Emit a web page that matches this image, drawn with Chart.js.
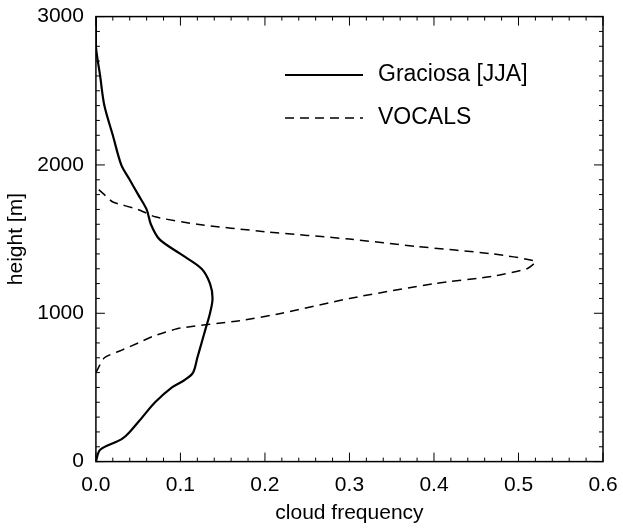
<!DOCTYPE html>
<html lang="en">
<head>
<meta charset="UTF-8" />
<script src="https://cdn.jsdelivr.net/npm/chart.js"></script>
<style>
  body { margin: 0; background: #fff; }
  #wrap { width: 623px; height: 530px; }
</style>
</head>
<body>
<div id="wrap"><canvas id="c"></canvas></div>
<script>
const graciosaHeight = [0, 80, 150, 200, 300, 400, 500, 550, 600, 700, 800, 900, 1000, 1100, 1200, 1300, 1400, 1500, 1600, 1700, 1800, 1900, 2000, 2200, 2400, 2600, 2800, 3000];
const graciosaFreq   = [0, 0.005, 0.03, 0.04, 0.055, 0.07, 0.09, 0.105, 0.115, 0.12, 0.125, 0.13, 0.135, 0.138, 0.135, 0.125, 0.1, 0.075, 0.065, 0.06, 0.05, 0.04, 0.03, 0.02, 0.01, 0.005, 0, 0];
const vocalsHeight = [600, 700, 750, 800, 850, 900, 950, 1000, 1100, 1200, 1250, 1300, 1350, 1400, 1450, 1500, 1550, 1600, 1650, 1700, 1750, 1800, 1850];
const vocalsFreq   = [0, 0.01, 0.03, 0.05, 0.07, 0.1, 0.17, 0.22, 0.3, 0.4, 0.47, 0.51, 0.52, 0.47, 0.38, 0.3, 0.2, 0.12, 0.07, 0.05, 0.02, 0.01, 0];

const FONT = '"Liberation Sans", Arial, sans-serif';
const toPoints = (xs, ys) => xs.map((x, i) => ({ x, y: ys[i] }));

const frame = {
  id: 'frame',
  afterDraw(chart) {
    const { ctx, chartArea: a, scales: { x, y } } = chart;
    ctx.save();
    ctx.strokeStyle = '#000';
    ctx.lineWidth = 1.5;
    ctx.strokeRect(a.left, a.top, a.right - a.left, a.bottom - a.top);
    ctx.lineWidth = 1;
    ctx.beginPath();
    for (let v = 0; v <= 0.6001; v += 0.02) {
      const p = x.getPixelForValue(v);
      const len = Math.abs(v * 10 - Math.round(v * 10)) < 1e-6 ? 9 : 4;
      ctx.moveTo(p, a.bottom); ctx.lineTo(p, a.bottom - len);
      ctx.moveTo(p, a.top); ctx.lineTo(p, a.top + len);
    }
    for (let v = 0; v <= 3000; v += 100) {
      const p = y.getPixelForValue(v);
      const len = v % 1000 === 0 ? 9 : 4;
      ctx.moveTo(a.left, p); ctx.lineTo(a.left + len, p);
      ctx.moveTo(a.right, p); ctx.lineTo(a.right - len, p);
    }
    ctx.stroke();
    // legend
    ctx.font = '23px ' + FONT;
    ctx.fillStyle = '#000';
    ctx.textBaseline = 'middle';
    ctx.lineWidth = 2.2;
    ctx.beginPath(); ctx.moveTo(285, 75); ctx.lineTo(363, 75); ctx.stroke();
    ctx.fillText('Graciosa [JJA]', 378, 75);
    ctx.lineWidth = 1.5;
    ctx.setLineDash([9, 6]);
    ctx.beginPath(); ctx.moveTo(285, 118); ctx.lineTo(363, 118); ctx.stroke();
    ctx.setLineDash([]);
    ctx.fillText('VOCALS', 378, 118);
    ctx.restore();
  }
};

new Chart(document.getElementById('c'), {
  type: 'scatter',
  data: {
    datasets: [
      { label: 'Graciosa [JJA]', data: toPoints(graciosaFreq, graciosaHeight), showLine: true, borderColor: '#000', borderWidth: 2.2, pointRadius: 0, tension: 0.3 },
      { label: 'VOCALS', data: toPoints(vocalsFreq, vocalsHeight), showLine: true, borderColor: '#000', borderWidth: 1.5, borderDash: [9, 6], pointRadius: 0, tension: 0.2 }
    ]
  },
  options: {
    responsive: true,
    maintainAspectRatio: false,
    animation: false,
    layout: { padding: { top: 14, right: 20, left: 0, bottom: 0 } },
    plugins: { legend: { display: false }, tooltip: { enabled: false } },
    scales: {
      x: {
        min: 0, max: 0.6,
        grid: { display: false },
        border: { display: false },
        ticks: { stepSize: 0.1, color: '#000', font: { size: 21, family: FONT }, callback: v => v.toFixed(1), padding: 3 },
        title: { display: true, text: 'cloud frequency', color: '#000', font: { size: 21, family: FONT }, padding: { top: 0 } }
      },
      y: {
        min: 0, max: 3000,
        grid: { display: false },
        border: { display: false },
        ticks: { stepSize: 1000, color: '#000', font: { size: 21, family: FONT }, callback: v => String(v), padding: 4 },
        title: { display: true, text: 'height [m]', color: '#000', font: { size: 21, family: FONT } }
      }
    }
  },
  plugins: [frame]
});
</script>
</body>
</html>
